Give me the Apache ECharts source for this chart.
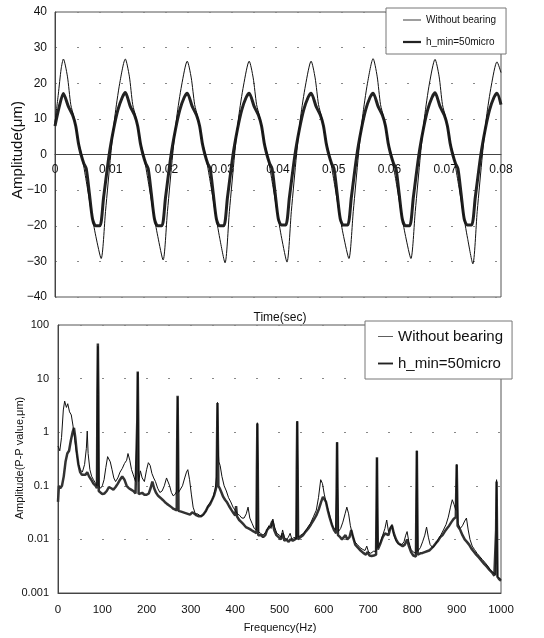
<!DOCTYPE html>
<html>
<head>
<meta charset="utf-8">
<script src="https://cdn.jsdelivr.net/npm/echarts@6/dist/echarts.min.js"></script>
<style>
  html, body { margin: 0; padding: 0; background: #fff; }
  #chart { width: 544px; height: 638px; }
</style>
</head>
<body>
<div id="chart"></div>
<script>
// Series names shared by both panels
const seriesNames = ['Without bearing', 'h_min=50micro'];

// Time-domain response, [time (s), amplitude (um)]
const timeWithout = [
  [0, 9], [0.0006, 17], [0.0011, 24],
  [0.0015, 26.8], [0.00222, 22], [0.00283, 14], [0.00339, 10.5], [0.00422, 3.5], [0.00483, -0.5], [0.00561, -7.5], [0.0065, -16], [0.00733, -23], [0.00828, -29.2], [0.00906, -16], [0.0100, 0], [0.01072, 10.5], [0.01161, 20],
  [0.01261, 26.8], [0.01333, 22], [0.01394, 14], [0.0145, 10.5], [0.01533, 3.5], [0.01594, -0.5], [0.01672, -7.5], [0.01761, -16], [0.01844, -23], [0.01939, -29.6], [0.02017, -16], [0.02111, 0], [0.02183, 10.5], [0.02272, 19.5],
  [0.02372, 26.2], [0.02444, 21.5], [0.02505, 14], [0.02561, 10.5], [0.02644, 3.5], [0.02705, -0.5], [0.02783, -7.5], [0.02872, -16], [0.02955, -23.5], [0.0305, -30.4], [0.03128, -16], [0.03222, 0], [0.03294, 10.5], [0.03383, 19.5],
  [0.03483, 26.2], [0.03555, 21.5], [0.03616, 14], [0.03672, 10.5], [0.03755, 3.5], [0.03816, -0.5], [0.03894, -7.5], [0.03983, -16], [0.04066, -23.5], [0.04161, -30.2], [0.04239, -16], [0.04333, 0], [0.04405, 10.5], [0.04494, 19.5],
  [0.04594, 26.2], [0.04666, 21.5], [0.04727, 14], [0.04783, 10.5], [0.04866, 3.5], [0.04927, -0.5], [0.05005, -7.5], [0.05094, -16], [0.05177, -23], [0.05272, -29.2], [0.0535, -16], [0.05444, 0], [0.05516, 10.5], [0.05605, 20],
  [0.05706, 26.9], [0.05778, 22], [0.05839, 14], [0.05895, 10.5], [0.05978, 3.5], [0.06039, -0.5], [0.06117, -7.5], [0.06206, -16], [0.06289, -23], [0.06384, -29.2], [0.06462, -16], [0.06556, 0], [0.06628, 10.5], [0.06717, 20],
  [0.06817, 26.7], [0.06889, 22], [0.0695, 14], [0.07006, 10.5], [0.07089, 3.5], [0.0715, -0.5], [0.07228, -7.5], [0.07317, -16], [0.074, -23.5], [0.07495, -30.7], [0.07573, -16], [0.07667, 0], [0.07739, 10.5], [0.07828, 19.5],
  [0.07928, 26], [0.08, 23]
];
const timeH50 = [
  [0, 8], [0.0007, 13],
  [0.0015, 17.1], [0.00239, 13.5], [0.00317, 11], [0.00372, 8], [0.00422, 3], [0.00467, 0], [0.00517, -2.5], [0.00561, -4], [0.00617, -11], [0.00672, -18], [0.00728, -20], [0.00806, -20], [0.00872, -12], [0.00972, 0], [0.0105, 7], [0.01128, 12.5], [0.01206, 16],
  [0.01261, 17.4], [0.0135, 13.5], [0.01428, 11], [0.01483, 8], [0.01533, 3], [0.01578, 0], [0.01628, -2.5], [0.01672, -4], [0.01728, -11], [0.01783, -18], [0.01839, -20], [0.01917, -20], [0.01983, -12], [0.02083, 0], [0.02161, 7], [0.02239, 12.5], [0.02317, 16],
  [0.02372, 17.2], [0.02461, 13.5], [0.02539, 11], [0.02594, 8], [0.02644, 3], [0.02689, 0], [0.02739, -2.5], [0.02783, -4], [0.02839, -11], [0.02894, -18], [0.0295, -20], [0.03028, -20], [0.03094, -12], [0.03194, 0], [0.03272, 7], [0.0335, 12.5], [0.03428, 16],
  [0.03483, 17.2], [0.03572, 13.5], [0.0365, 11], [0.03705, 8], [0.03755, 3], [0.038, 0], [0.0385, -2.5], [0.03894, -4], [0.0395, -11], [0.04005, -18], [0.04061, -19.8], [0.04139, -19.8], [0.04205, -12], [0.04305, 0], [0.04383, 7], [0.04461, 12.5], [0.04539, 16],
  [0.04594, 17.2], [0.04683, 13.5], [0.04761, 11], [0.04816, 8], [0.04866, 3], [0.04911, 0], [0.04961, -2.5], [0.05005, -4], [0.05061, -11], [0.05116, -18], [0.05172, -19.8], [0.0525, -19.8], [0.05316, -12], [0.05416, 0], [0.05494, 7], [0.05572, 12.5], [0.0565, 16],
  [0.05706, 17.2], [0.05795, 13.5], [0.05873, 11], [0.05928, 8], [0.05978, 3], [0.06023, 0], [0.06073, -2.5], [0.06117, -4], [0.06173, -11], [0.06228, -18], [0.06284, -20], [0.06362, -20], [0.06428, -12], [0.06528, 0], [0.06606, 7], [0.06684, 12.5], [0.06762, 16],
  [0.06817, 17.3], [0.06906, 13.5], [0.06984, 11], [0.07039, 8], [0.07089, 3], [0.07134, 0], [0.07184, -2.5], [0.07228, -4], [0.07284, -11], [0.07339, -18], [0.07395, -19.8], [0.07473, -19.8], [0.07539, -12], [0.07639, 0], [0.07717, 7], [0.07795, 12.5], [0.07873, 16],
  [0.07928, 17.2], [0.08, 14]
];

// Frequency spectrum, [frequency (Hz), P-P amplitude (um)]
const specWithout = [
  [0,0.55],[4,0.45],[8,0.8],[12,2.6],[15,3.8],[19,2.9],[22,3.4],[26,2.4],[30,2.1],[34,1.3],[38,0.7],[42,0.4],[46,0.26],[50,0.2],[55,0.18],[60,0.25],[64,0.5],[66,1.05],[68,0.4],[72,0.2],[76,0.15],[80,0.13],[85,0.11],[88,0.1],[89,5],[90,40],[91,5],[92,0.1],[96,0.09],[100,0.1],[104,0.13],[108,0.22],[112,0.35],[115,0.38],[118,0.28],[122,0.2],[126,0.14],[130,0.12],[135,0.14],[140,0.18],[145,0.21],[150,0.26],[155,0.3],[158,0.4],[162,0.3],[166,0.2],[170,0.16],[175,0.12],[178,0.12],[179,1.6],[180,13],[181,1.6],[182,0.12],[186,0.19],[190,0.14],[195,0.12],[200,0.2],[204,0.27],[208,0.24],[212,0.17],[216,0.14],[220,0.12],[225,0.09],[230,0.075],[235,0.08],[240,0.1],[245,0.14],[248,0.15],[252,0.1],[256,0.075],[260,0.065],[265,0.07],[268,0.08],[269,0.6],[270,4.5],[271,0.6],[272,0.075],[276,0.08],[281,0.1],[286,0.14],[290,0.18],[293,0.2],[297,0.13],[301,0.07],[305,0.04],[310,0.03],[315,0.03],[320,0.028],[325,0.027],[330,0.03],[335,0.035],[340,0.045],[345,0.05],[350,0.06],[355,0.09],[358,0.15],[359,0.6],[360,3.6],[361,0.6],[363,0.28],[366,0.24],[370,0.15],[375,0.1],[380,0.08],[385,0.06],[390,0.05],[395,0.04],[400,0.035],[405,0.03],[410,0.028],[415,0.025],[420,0.025],[425,0.03],[429,0.04],[433,0.025],[438,0.02],[443,0.016],[448,0.015],[449,0.2],[450,1.5],[451,0.2],[452,0.014],[457,0.013],[463,0.012],[470,0.014],[476,0.018],[481,0.016],[485,0.024],[489,0.017],[494,0.013],[500,0.012],[504,0.011],[507,0.015],[511,0.011],[516,0.01],[520,0.011],[524,0.013],[528,0.01],[533,0.011],[538,0.01],[539,0.2],[540,1.6],[541,0.2],[542,0.011],[548,0.012],[555,0.013],[562,0.016],[570,0.02],[577,0.027],[583,0.035],[588,0.06],[593,0.13],[597,0.11],[601,0.07],[605,0.05],[610,0.035],[615,0.025],[620,0.017],[627,0.015],[629,0.09],[630,0.65],[631,0.09],[633,0.014],[638,0.016],[643,0.021],[648,0.03],[652,0.04],[656,0.03],[660,0.018],[665,0.012],[670,0.009],[676,0.008],[682,0.007],[688,0.0065],[693,0.0062],[697,0.0075],[701,0.0058],[706,0.0055],[712,0.006],[718,0.006],[719,0.04],[720,0.33],[721,0.04],[722,0.007],[728,0.009],[733,0.012],[738,0.016],[742,0.023],[746,0.014],[750,0.016],[754,0.019],[758,0.012],[764,0.009],[770,0.008],[776,0.008],[781,0.009],[785,0.012],[788,0.014],[792,0.009],[797,0.0065],[802,0.0058],[808,0.0055],[809,0.05],[810,0.45],[811,0.05],[812,0.006],[818,0.007],[823,0.009],[828,0.012],[832,0.017],[836,0.011],[840,0.008],[846,0.007],[852,0.008],[858,0.01],[864,0.012],[870,0.015],[876,0.019],[881,0.026],[886,0.04],[890,0.055],[894,0.045],[898,0.035],[899,0.08],[900,0.25],[901,0.08],[903,0.02],[908,0.016],[913,0.018],[918,0.022],[922,0.025],[926,0.015],[930,0.01],[935,0.0075],[940,0.0065],[946,0.0055],[952,0.0048],[958,0.0042],[964,0.0037],[970,0.0032],[976,0.0027],[982,0.0024],[988,0.0022],[989,0.015],[990,0.13],[991,0.015],[992,0.002],[996,0.0019],[1000,0.0018]
];
const specH50 = [
  [0,0.05],[2,0.1],[5,0.09],[9,0.1],[13,0.15],[17,0.28],[21,0.4],[25,0.45],[29,0.7],[33,1.0],[36,1.2],[39,0.8],[42,0.45],[46,0.25],[50,0.18],[54,0.16],[58,0.15],[62,0.16],[66,0.18],[70,0.15],[75,0.13],[80,0.11],[85,0.1],[88,0.09],[89,5.5],[90,45],[91,5.5],[92,0.08],[96,0.075],[100,0.07],[105,0.072],[110,0.08],[115,0.095],[120,0.09],[125,0.085],[130,0.095],[135,0.11],[140,0.13],[145,0.15],[150,0.13],[155,0.1],[160,0.09],[165,0.085],[170,0.08],[175,0.072],[178,0.07],[179,1.7],[180,13.5],[181,1.7],[182,0.07],[186,0.075],[190,0.074],[195,0.068],[200,0.068],[205,0.072],[209,0.09],[213,0.12],[217,0.09],[221,0.075],[226,0.065],[231,0.06],[236,0.055],[241,0.05],[246,0.046],[251,0.043],[256,0.04],[261,0.037],[268,0.035],[269,0.6],[270,4.8],[271,0.6],[272,0.034],[278,0.033],[283,0.032],[288,0.031],[293,0.03],[298,0.029],[303,0.032],[308,0.03],[313,0.028],[318,0.027],[323,0.027],[328,0.029],[333,0.033],[338,0.04],[343,0.045],[348,0.055],[352,0.065],[356,0.085],[358,0.1],[359,0.6],[360,3.5],[361,0.6],[362,0.1],[365,0.09],[369,0.075],[373,0.062],[377,0.055],[381,0.05],[386,0.042],[391,0.036],[396,0.031],[400,0.028],[402,0.042],[404,0.027],[409,0.023],[414,0.021],[419,0.019],[424,0.017],[430,0.016],[436,0.015],[442,0.014],[448,0.013],[449,0.2],[450,1.45],[451,0.2],[452,0.012],[458,0.012],[463,0.011],[468,0.012],[472,0.015],[476,0.014],[480,0.018],[484,0.022],[488,0.015],[493,0.012],[498,0.011],[503,0.01],[507,0.013],[511,0.0095],[516,0.01],[520,0.009],[525,0.01],[530,0.0095],[535,0.01],[538,0.011],[539,0.2],[540,1.6],[541,0.2],[542,0.01],[547,0.011],[553,0.012],[559,0.014],[565,0.016],[571,0.019],[577,0.023],[583,0.028],[589,0.037],[594,0.05],[598,0.062],[601,0.065],[605,0.05],[609,0.035],[613,0.026],[618,0.019],[623,0.015],[628,0.013],[629,0.09],[630,0.65],[631,0.09],[632,0.012],[637,0.011],[641,0.01],[645,0.01],[649,0.012],[653,0.01],[658,0.011],[662,0.015],[666,0.011],[671,0.008],[677,0.007],[683,0.0062],[689,0.0056],[695,0.0052],[699,0.0058],[703,0.005],[708,0.0049],[713,0.005],[718,0.0052],[719,0.04],[720,0.34],[721,0.04],[722,0.0065],[728,0.0085],[733,0.011],[738,0.013],[742,0.014],[746,0.012],[750,0.016],[754,0.018],[758,0.013],[763,0.01],[768,0.0085],[773,0.008],[778,0.0075],[783,0.008],[788,0.01],[792,0.0075],[797,0.0058],[802,0.005],[808,0.0048],[809,0.05],[810,0.45],[811,0.05],[812,0.0052],[818,0.0055],[823,0.0056],[828,0.0058],[833,0.006],[838,0.0062],[843,0.0068],[848,0.0075],[853,0.0085],[858,0.0095],[863,0.011],[868,0.012],[873,0.014],[878,0.016],[883,0.018],[888,0.021],[893,0.024],[898,0.026],[899,0.08],[900,0.25],[901,0.08],[902,0.018],[908,0.015],[913,0.012],[918,0.01],[923,0.009],[928,0.008],[933,0.0068],[938,0.006],[944,0.0052],[950,0.0046],[956,0.004],[962,0.0035],[968,0.0031],[974,0.0027],[980,0.0024],[985,0.0021],[988,0.002],[989,0.015],[990,0.12],[991,0.015],[992,0.002],[996,0.0018],[1000,0.0017]
];

// Axis ranges
const timeRange = [0, 0.08, 0.01];
const ampRange = [-40, 40, 10];
const freqRange = [0, 1000, 100];
const ppRange = [0.001, 100];

const FONT = "'Liberation Sans', Arial, sans-serif";
const INK = '#111';
const dotted = { color: '#888', width: 1, type: [2, 20] };

// Legend keys: a thin and a thick horizontal bar
const thinKey = 'path://M0,0H40V1.8H0Z';
const thickKey = 'path://M0,0H40V5H0Z';

const chart = echarts.init(document.getElementById('chart'), null, { renderer: 'canvas' });

chart.setOption({
  backgroundColor: '#fff',
  animation: false,
  textStyle: { fontFamily: FONT, color: INK },
  grid: [
    { left: 55, right: 43, top: 12, bottom: 341, show: true, borderColor: '#555', borderWidth: 1 },
    { left: 58, right: 43, top: 325, bottom: 45, show: true, borderColor: '#555', borderWidth: 1 }
  ],
  xAxis: [
    {
      // time axis runs along the zero line of the amplitude scale
      gridIndex: 0, type: 'value', min: timeRange[0], max: timeRange[1], interval: timeRange[2],
      position: 'bottom', offset: -142.5,
      axisLine: { onZero: false, lineStyle: { color: '#444', width: 1 } },
      axisTick: { show: false },
      axisLabel: { fontSize: 12, margin: 9, color: INK, fontFamily: FONT, formatter: v => String(v) },
      splitLine: { show: false }
    },
    {
      gridIndex: 1, type: 'value', min: freqRange[0], max: freqRange[1], interval: freqRange[2],
      axisLine: { lineStyle: { color: '#444', width: 1 } },
      axisTick: { show: false },
      axisLabel: { fontSize: 11.5, margin: 11, color: INK, fontFamily: FONT, formatter: v => String(v) },
      splitLine: { show: false }
    }
  ],
  yAxis: [
    {
      gridIndex: 0, type: 'value', min: ampRange[0], max: ampRange[1], interval: ampRange[2],
      axisLine: { show: true, onZero: false, lineStyle: { color: '#444', width: 1 } },
      axisTick: { show: false },
      axisLabel: {
        fontSize: 12, margin: 8, color: INK, fontFamily: FONT,
        formatter: v => String(v).replace('-', '\u2212')
      },
      splitLine: { show: true, lineStyle: dotted }
    },
    {
      gridIndex: 1, type: 'log', logBase: 10, min: ppRange[0], max: ppRange[1],
      axisLine: { show: true, lineStyle: { color: '#444', width: 1 } },
      axisTick: { show: false },
      axisLabel: {
        fontSize: 11, margin: 9, color: INK, fontFamily: FONT,
        formatter: v => String(Number(Number(v).toPrecision(3)))
      },
      splitLine: { show: true, lineStyle: dotted }
    }
  ],
  legend: [
    {
      data: [{ name: seriesNames[0], icon: thinKey }, { name: seriesNames[1], icon: thickKey }],
      orient: 'vertical', left: 386, top: 8,
      selectedMode: false, backgroundColor: '#fff',
      borderColor: '#777', borderWidth: 1,
      padding: [7, 10, 7, 17], itemWidth: 18, itemHeight: 12, itemGap: 12,
      textStyle: { fontSize: 10, color: INK, fontFamily: FONT }
    },
    {
      data: [{ name: seriesNames[0], icon: thinKey }, { name: seriesNames[1], icon: thickKey }],
      orient: 'vertical', left: 365, top: 321,
      selectedMode: false, backgroundColor: '#fff',
      borderColor: '#777', borderWidth: 1,
      padding: [8, 9, 8, 13], itemWidth: 15, itemHeight: 14, itemGap: 12,
      textStyle: { fontSize: 15, color: INK, fontFamily: FONT }
    }
  ],
  graphic: [
    { type: 'text', x: 18, y: 150, rotation: Math.PI / 2,
      style: { text: 'Amplitude(\u03bcm)', font: '15px ' + FONT, fill: INK, align: 'center', verticalAlign: 'middle' } },
    { type: 'text', x: 280, y: 318,
      style: { text: 'Time(sec)', font: '12px ' + FONT, fill: INK, align: 'center', verticalAlign: 'middle' } },
    { type: 'text', x: 20, y: 458, rotation: Math.PI / 2,
      style: { text: 'Amplitude(P-P value,\u03bcm)', font: '11px ' + FONT, fill: INK, align: 'center', verticalAlign: 'middle' } },
    { type: 'text', x: 280, y: 628,
      style: { text: 'Frequency(Hz)', font: '11px ' + FONT, fill: INK, align: 'center', verticalAlign: 'middle' } }
  ],
  series: [
    {
      name: seriesNames[0], type: 'line', xAxisIndex: 0, yAxisIndex: 0,
      data: timeWithout, symbol: 'none', smooth: 0.25,
      lineStyle: { color: '#111', width: 1 }, itemStyle: { color: '#111' }, z: 3
    },
    {
      name: seriesNames[1], type: 'line', xAxisIndex: 0, yAxisIndex: 0,
      data: timeH50, symbol: 'none', smooth: 0.25,
      lineStyle: { color: '#222', width: 3 }, itemStyle: { color: '#222' }, z: 2
    },
    {
      name: seriesNames[0], type: 'line', xAxisIndex: 1, yAxisIndex: 1,
      data: specWithout, symbol: 'none',
      lineStyle: { color: '#111', width: 1 }, itemStyle: { color: '#111' }, z: 3
    },
    {
      name: seriesNames[1], type: 'line', xAxisIndex: 1, yAxisIndex: 1,
      data: specH50, symbol: 'none',
      lineStyle: { color: '#333', width: 2.5 }, itemStyle: { color: '#333' }, z: 2
    }
  ]
});
</script>
</body>
</html>
